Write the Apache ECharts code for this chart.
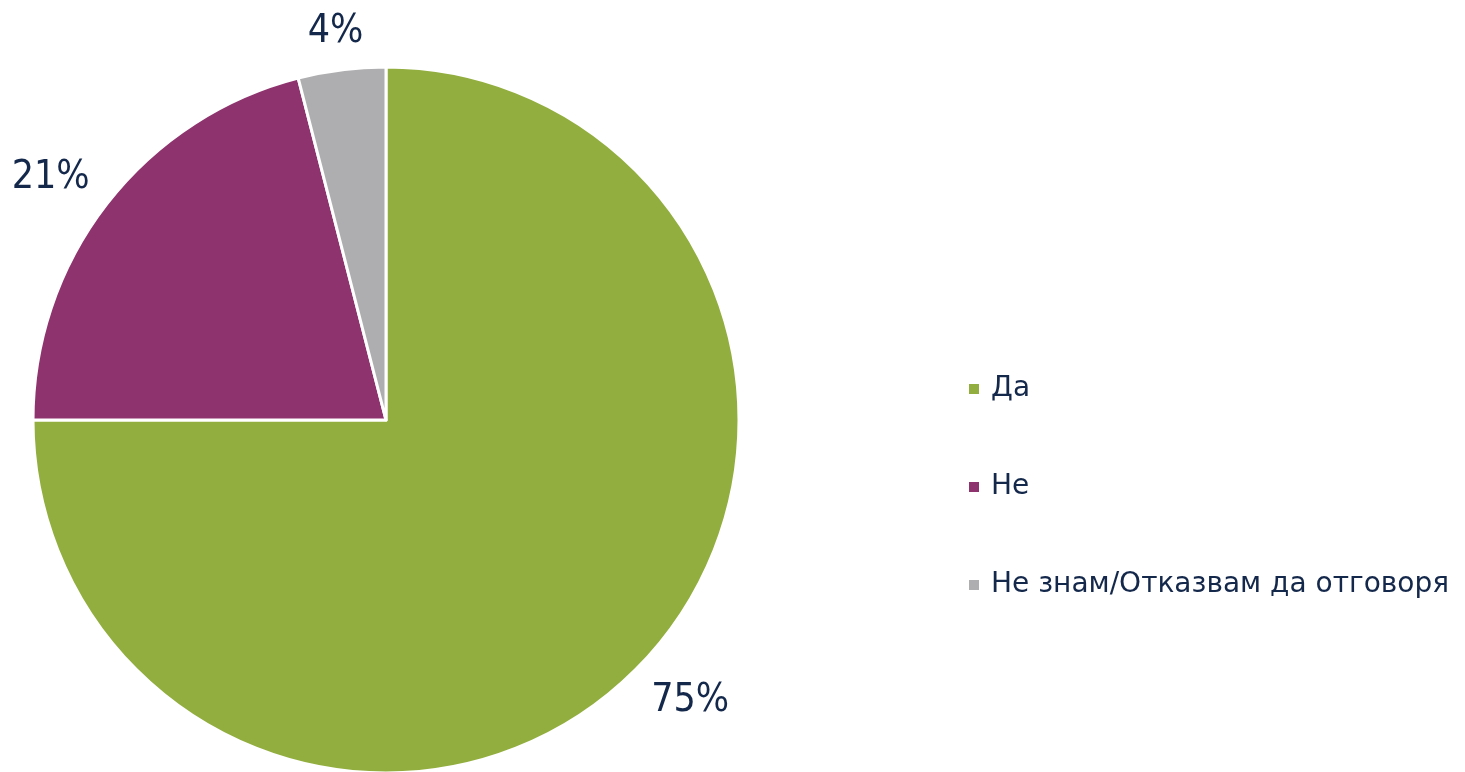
<!DOCTYPE html>
<html>
<head>
<meta charset="utf-8">
<script src="https://cdn.jsdelivr.net/npm/echarts@6/dist/echarts.min.js"></script>
<style>
  html, body { margin: 0; padding: 0; background: #fff; }
  #chart { width: 1465px; height: 772px; }
</style>
</head>
<body>
<div id="chart"></div>
<script>
  var categories = ['Да', 'Не', 'Не знам/Отказвам да отговоря']
  var values = [75, 21, 4]
  var colors = ['#92ae3f', '#8e336e', '#aeaeb0']

  var myChart = echarts.init(document.getElementById('chart'))
  var textColor = '#14284b'
  var pieCenter = [386, 420]
  var pieRadius = 353
  var labelPad = 22

  // excel-style label placement: nearest corner of the label sits on the mid-angle ray
  var total = values.reduce(function (a, b) { return a + b }, 0)
  function placeLabel (params) {
    var i = params.dataIndex
    var before = 0
    for (var k = 0; k < i; k++) before += values[k]
    var ang = (90 - 360 * (before + values[i] / 2) / total) * Math.PI / 180
    var dx = Math.cos(ang)
    var dy = -Math.sin(ang)
    var m = Math.max(Math.abs(dx), Math.abs(dy))
    var w = params.labelRect.width
    var h = params.labelRect.height * 0.8
    var d = pieRadius + labelPad
    return {
      x: pieCenter[0] + dx * d + dx / m * w / 2,
      y: pieCenter[1] + dy * d + dy / m * h / 2,
      align: 'center',
      verticalAlign: 'middle'
    }
  }

  var option = {
    animation: false,
    color: colors,
    legend: {
      orient: 'vertical',
      left: 962,
      top: 370,
      itemWidth: 12,
      itemHeight: 12,
      itemGap: 70,
      icon: 'rect',
      textStyle: {
        color: textColor,
        fontFamily: 'DejaVu Sans',
        fontSize: 28,
        padding: [0, 0, 0, 6]
      },
      data: categories
    },
    series: [
      {
        type: 'pie',
        center: pieCenter,
        radius: pieRadius,
        startAngle: 90,
        clockwise: true,
        avoidLabelOverlap: false,
        itemStyle: {
          borderColor: '#fff',
          borderWidth: 3
        },
        label: {
          position: 'outside',
          formatter: '{c}%',
          color: textColor,
          fontFamily: "'DejaVu Sans Condensed', sans-serif",
          fontSize: 39
        },
        labelLine: {
          show: false
        },
        labelLayout: placeLabel,
        data: categories.map(function (name, i) {
          return { name: name, value: values[i] }
        })
      }
    ]
  }
  myChart.setOption(option)
</script>
</body>
</html>
